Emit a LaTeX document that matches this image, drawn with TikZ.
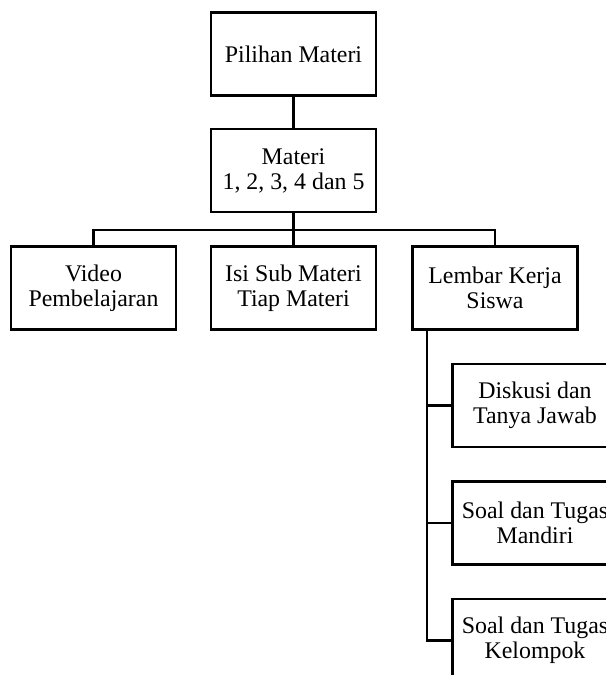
\documentclass[tikz,border=0pt]{standalone}
\usepackage{fontspec}
\setmainfont{Liberation Serif}
\begin{document}
\begin{tikzpicture}[x=0.75pt,y=-0.75pt,
  box/.style={draw,line width=1.9pt,minimum width=124pt,minimum height=62pt,inner sep=0pt,align=center,
    font=\fontsize{17.9}{18.8}\selectfont},
  conn/.style={line width=1.9pt}]
\clip (0,0) rectangle (606,675);
\useasboundingbox (0,0) rectangle (606,675);
\node[box] (pil) at (293.5,54) {Pilihan Materi};
\node[box] (mat) at (293.5,170.5) {Materi\\1, 2, 3, 4 dan 5};
\node[box] (vid) at (93.5,288) {Video\\Pembelajaran};
\node[box] (isi) at (293.5,288) {Isi Sub Materi\\Tiap Materi};
\node[box] (lkr) at (495,288) {Lembar Kerja\\Siswa};
\node[box] (dis) at (535,405.5) {Diskusi dan\\Tanya Jawab};
\node[box] (man) at (535,523) {Soal dan Tugas\\Mandiri};
\node[box] (kel) at (535,640.5) {Soal dan Tugas\\Kelompok};
\coordinate (bus) at (0,230);
\coordinate (spine) at (427,0);
\draw[conn] (pil) -- (mat);
\draw[conn] (mat.south) -- (mat.south |- bus);
\draw[conn] (vid.north) |- (lkr.north |- bus) -- (lkr.north);
\draw[conn] (isi.north) -- (isi.north |- bus);
\draw[conn] (lkr.south -| spine) -- (spine |- kel.west) -- (kel.west);
\draw[conn] (spine |- dis.west) -- (dis.west);
\draw[conn] (spine |- man.west) -- (man.west);
\end{tikzpicture}
\end{document}
